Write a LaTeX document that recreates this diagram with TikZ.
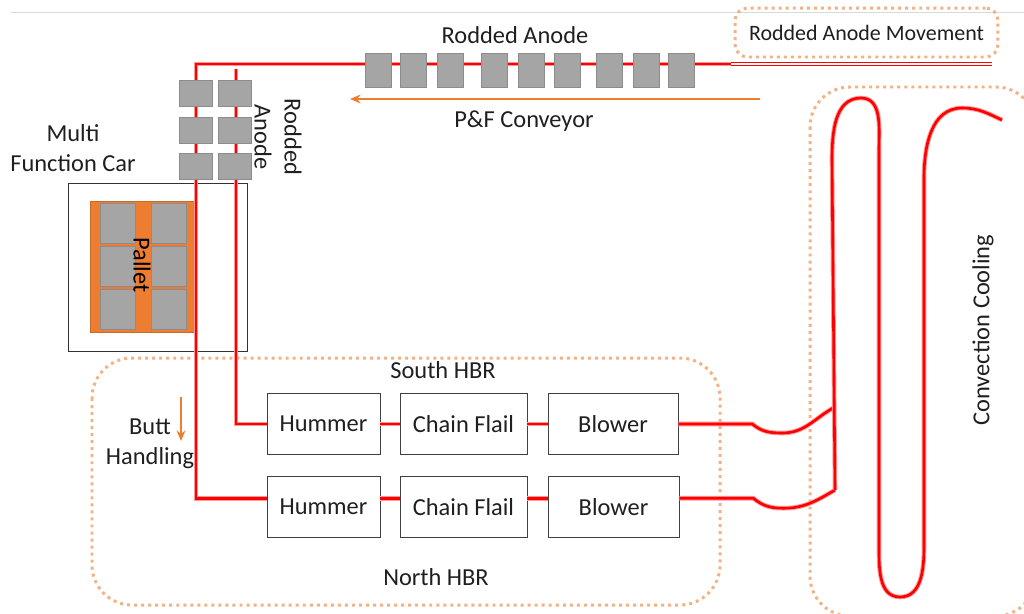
\documentclass[tikz,border=0pt]{standalone}
\usepackage{fontspec}
\setmainfont{Carlito}
\usetikzlibrary{arrows.meta}

\definecolor{ofcorange}{HTML}{ED7D31}
\definecolor{dotorange}{HTML}{F4B183}
\definecolor{anodegray}{HTML}{A5A5A5}

\begin{document}
\begin{tikzpicture}[x=0.02cm, y=-0.02cm,
  font=\fontsize{13.9}{17}\selectfont, text=black!88,
  anode/.style={draw=black!45, fill=anodegray, inner sep=0pt},
  unit/.style={draw=black!75, fill=white, inner sep=0pt, minimum height=1.23cm},
  track/.style={draw=red!40, double=red, double distance=1.5pt, line width=0.55pt},
  zone/.style={draw=dotorange, line width=1.7pt, dash pattern=on 1.7pt off 2.3pt, rounded corners=0.8cm}]
  \path[use as bounding box, clip] (0,0) rectangle (1024,613);
  \draw[black!15] (11,12) -- (1024,12);

  \node[draw=black!80, minimum width=3.58cm, minimum height=3.36cm] (car) at (157.5,267) {};
  \node[fill=ofcorange, draw=ofcorange!85!black, minimum width=2.12cm, minimum height=2.62cm] (pallet) at (143,266.5) {};
  \foreach \x [count=\i] in {117.5,168.5}
    \foreach \y [count=\j] in {223,266,309.5}
      \node[anode, minimum width=0.7cm, minimum height=0.8cm] (pb\i\j) at (\x,\y) {};
  \node[rotate=-90, text=black] (pallettext) at (142,265) {Pallet};

  \draw[zone] (92,358) rectangle (720,605);
  \draw[zone] (810,87) rectangle (1036,616);
  \node[zone, rounded corners=0.25cm, minimum width=5.26cm, minimum height=0.98cm,
    font=\fontsize{12.5}{15}\selectfont] (move) at (866.5,32.5) {Rodded Anode Movement};

  \node[unit, minimum width=2.26cm] (h1) at (323.5,424) {Hummer};
  \node[unit, minimum width=2.54cm] (c1) at (463.5,424) {Chain Flail};
  \node[unit, minimum width=2.6cm] (b1) at (613,424) {Blower};
  \node[unit, minimum width=2.26cm] (h2) at (323.5,507) {Hummer};
  \node[unit, minimum width=2.54cm] (c2) at (463.5,507) {Chain Flail};
  \node[unit, minimum width=2.62cm] (b2) at (613.5,507) {Blower};

  \coordinate (feed) at (731,64);
  \coordinate (feedend) at (992,64);
  \coordinate (tl) at (196,64);
  \coordinate (tr) at (236,69);
  \coordinate (j1) at (833,408);
  \coordinate (j2) at (835,490);
  \coordinate (coilend) at (1002,120);

  \draw[draw=red, double=white, line width=0.6pt, double distance=1.6pt] (feed) -- (feedend);
  \draw[track] (feed) -- (tl) |- ([yshift=5pt]h2.west);
  \draw[track] (tr) |- (h1.west);
  \draw[track] (h1.east) -- (c1.west) (c1.east) -- (b1.west);
  \draw[track] ([yshift=5pt]h2.east) -- ([yshift=5pt]c2.west) ([yshift=5pt]c2.east) -- ([yshift=5pt]b2.west);
  \draw[track] (b1.east) -- ++(74,0) to[out=-40, in=180] ++(30,9) to[out=0, in=-150] (j1);
  \draw[track] ([yshift=5pt]b2.east) -- ++(74,0) to[out=-40, in=180] ++(30,10) to[out=0, in=-150] (j2);
  \draw[track] (j2) -- (832,160) to[out=90, in=180] (861,98) to[out=0, in=90] (879,150)
    -- (879,545) to[out=-90, in=180] (900,597) to[out=0, in=-90] (924,545)
    -- (924,178) to[out=90, in=180] (962,108) to[out=0, in=155] (coilend);

  \foreach \x [count=\i] in {378,413,450,494,531,567,609,646,681}
    \node[anode, minimum width=0.52cm, minimum height=0.68cm] (hb\i) at (\x,70) {};
  \foreach \x [count=\i] in {196,235}
    \foreach \y [count=\j] in {93,130,166}
      \node[anode, minimum width=0.66cm, minimum height=0.52cm] (vb\i\j) at (\x,\y) {};

  \coordinate (pfstart) at (760,99);
  \coordinate (pfend) at (350,99);
  \coordinate (buttstart) at (181,397);
  \coordinate (buttend) at (181,441);
  \draw[ofcorange, line width=1pt, -{Stealth[length=6pt, width=5pt]}] (pfstart) -- (pfend);
  \draw[ofcorange, line width=1pt, -{Stealth[length=6pt, width=5pt]}] (buttstart) -- (buttend);

  \node (ratitle) at (515,35) {Rodded Anode};
  \node (pf) at (524,121) {P\&F Conveyor};
  \node[align=center] (mfc) at (73,148) {Multi\\Function Car};
  \node[rotate=-90, align=center] (ravert) at (278,137) {Rodded\\Anode};
  \node[align=center] (butt) at (150,444) {Butt\\Handling};
  \node (south) at (443,370) {South HBR};
  \node (north) at (436,577) {North HBR};
  \node[rotate=90] (conv) at (983,330) {Convection Cooling};
\end{tikzpicture}
\end{document}
